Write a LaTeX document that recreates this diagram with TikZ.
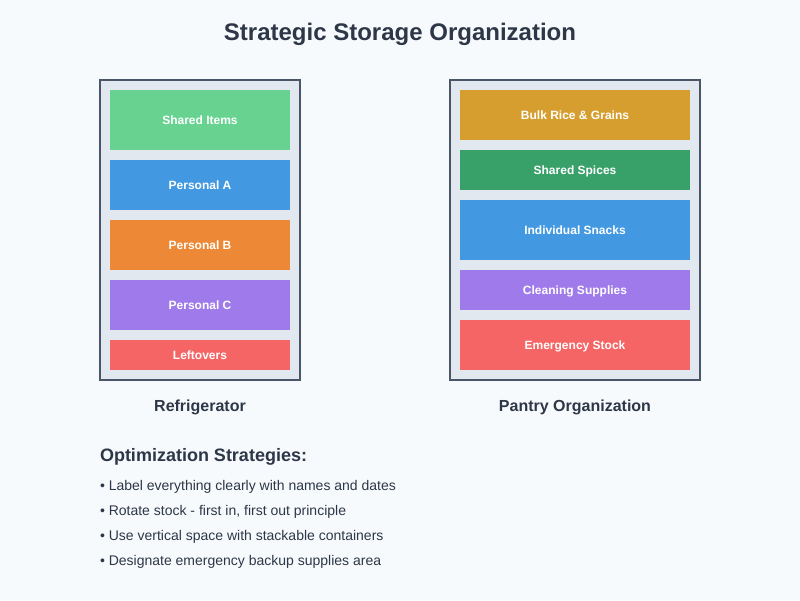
\documentclass[tikz,border=0pt]{standalone}
\usepackage{fontspec}
\setmainfont{Liberation Sans}
\definecolor{bgc}{HTML}{F7FAFC}
\definecolor{txt}{HTML}{2D3748}
\definecolor{cab}{HTML}{E2E8F0}
\definecolor{edge}{HTML}{4A5568}
\definecolor{cgreen}{HTML}{68D391}
\definecolor{cblue}{HTML}{4299E1}
\definecolor{corange}{HTML}{ED8936}
\definecolor{cpurple}{HTML}{9F7AEA}
\definecolor{cred}{HTML}{F56565}
\definecolor{cgold}{HTML}{D69E2E}
\definecolor{cdgreen}{HTML}{38A169}
\tikzset{
  unit/.style={inner sep=0pt,outer sep=0pt},
  cabinet/.style={unit,fill=cab,draw=edge,line width=2pt},
  shelf/.style={unit,text=white,text height=8.4pt,text depth=0pt,font=\bfseries\fontsize{12}{14}\selectfont},
  caption/.style={unit,anchor=base,text=txt,font=\bfseries\fontsize{16}{19}\selectfont},
  bullet/.style={unit,anchor=base west,text=txt,font=\fontsize{14}{17}\selectfont}
}
\begin{document}
\begin{tikzpicture}[x=1pt,y=-1pt]
\fill[bgc] (0,0) rectangle (800,600);
\useasboundingbox (0,0) rectangle (800,600);
\node[unit,anchor=base,text=txt,font=\bfseries\fontsize{24}{29}\selectfont] (title) at (400,40) {Strategic Storage Organization};
% Refrigerator
\node[cabinet,minimum width=200pt,minimum height=300pt] (fridge) at (200,230) {};
\node[shelf,fill=cgreen,minimum width=180pt,minimum height=60pt] (f1) at (200,120) {Shared Items};
\node[shelf,fill=cblue,minimum width=180pt,minimum height=50pt] (f2) at (200,185) {Personal A};
\node[shelf,fill=corange,minimum width=180pt,minimum height=50pt] (f3) at (200,245) {Personal B};
\node[shelf,fill=cpurple,minimum width=180pt,minimum height=50pt] (f4) at (200,305) {Personal C};
\node[shelf,fill=cred,minimum width=180pt,minimum height=30pt] (f5) at (200,355) {Leftovers};
\node[caption] (fcap) at (200,411) {Refrigerator};
% Pantry
\node[cabinet,minimum width=250pt,minimum height=300pt] (pantry) at (575,230) {};
\node[shelf,fill=cgold,minimum width=230pt,minimum height=50pt] (p1) at (575,115) {Bulk Rice \& Grains};
\node[shelf,fill=cdgreen,minimum width=230pt,minimum height=40pt] (p2) at (575,170) {Shared Spices};
\node[shelf,fill=cblue,minimum width=230pt,minimum height=60pt] (p3) at (575,230) {Individual Snacks};
\node[shelf,fill=cpurple,minimum width=230pt,minimum height=40pt] (p4) at (575,290) {Cleaning Supplies};
\node[shelf,fill=cred,minimum width=230pt,minimum height=50pt] (p5) at (575,345) {Emergency Stock};
\node[caption] (pcap) at (575,411) {Pantry Organization};
% Strategies
\node[unit,anchor=base west,text=txt,font=\bfseries\fontsize{18}{22}\selectfont] (strat) at (100,461) {Optimization Strategies:};
\node[bullet] (b1) at (100,490) {• Label everything clearly with names and dates};
\node[bullet] (b2) at (100,515) {• Rotate stock - first in, first out principle};
\node[bullet] (b3) at (100,540) {• Use vertical space with stackable containers};
\node[bullet] (b4) at (100,565) {• Designate emergency backup supplies area};
\end{tikzpicture}
\end{document}
